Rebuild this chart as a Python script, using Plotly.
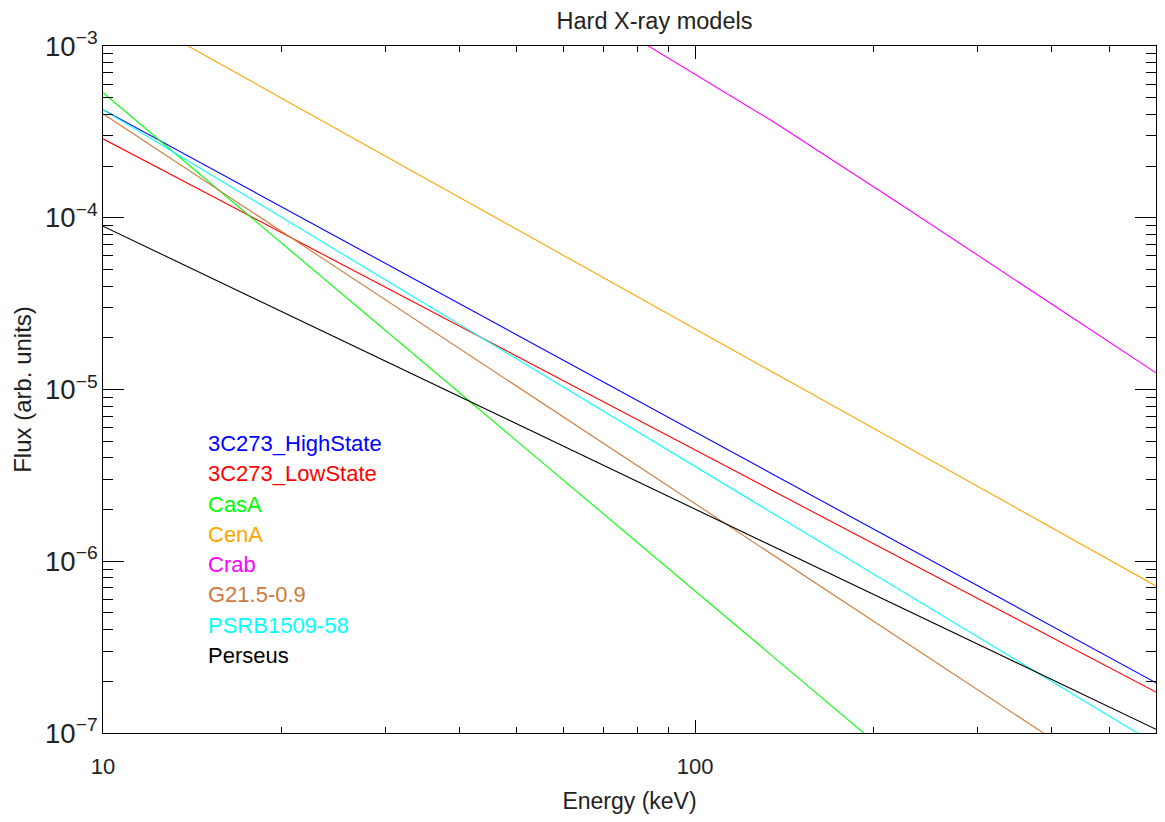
import math
import plotly.graph_objects as go

# ---- data ----
names = ["3C273_HighState", "3C273_LowState", "CasA", "CenA", "Crab",
         "G21.5-0.9", "PSRB1509-58", "Perseus"]
colors = ["#0000FF", "#FF0000", "#00FF00", "#FFA500", "#FF00FF",
          "#CD7A3C", "#00FFFF", "#000000"]

e_3c273_high = [10, 600]
f_3c273_high = [4.26e-4, 1.96e-7]

e_3c273_low = [10, 600]
f_3c273_low = [2.88e-4, 1.73e-7]

e_casa = [10, 193, 600]
f_casa = [5.34e-4, 1.0e-7, 3.7e-9]

e_cena = [10, 600]
f_cena = [1.89e-3, 7.18e-7]

e_crab = [10, 83.6, 134.5, 221.5, 600]
f_crab = [8.4e-2, 1.0e-3, 3.68e-4, 1.207e-4, 1.25e-5]

e_g21 = [10, 387, 600]
f_g21 = [4.03e-4, 1.0e-7, 3.7e-8]

e_psrb = [10, 559, 600]
f_psrb = [4.26e-4, 1.0e-7, 8.6e-8]

e_perseus = [10, 600]
f_perseus = [8.93e-5, 1.05e-7]

energies = [e_3c273_high, e_3c273_low, e_casa, e_cena, e_crab, e_g21, e_psrb, e_perseus]
fluxes = [f_3c273_high, f_3c273_low, f_casa, f_cena, f_crab, f_g21, f_psrb, f_perseus]

x_range = [10, 600]
y_range = [1e-7, 1e-3]
x_tickvals = [10, 100]
x_ticktext = ["10", "100"]
x_minor = [20, 30, 40, 50, 60, 70, 80, 90, 200, 300, 400, 500, 600]

FONT = "Liberation Sans, Arial, Helvetica, sans-serif"
TXT = "#222222"

fig = go.Figure()
for n, c, e, f in zip(names, colors, energies, fluxes):
    fig.add_trace(go.Scatter(x=e, y=f, mode="lines", name=n,
                             line=dict(color=c, width=1.1), showlegend=False))

# text legend
leg_x = 0.0975
leg_y0 = 0.4215
leg_dy = 0.0441
for i, (n, c) in enumerate(zip(names, colors)):
    fig.add_annotation(text=n, x=leg_x, y=leg_y0 - i * leg_dy,
                       xref="paper", yref="paper", xanchor="left", yanchor="middle",
                       showarrow=False, font=dict(family=FONT, size=22, color=c))

# the page body adds an 8px margin, so the figure is a bit smaller
fig.update_layout(
    width=1149, height=806,
    margin=dict(l=95, r=1, t=38, b=81, autoexpand=False),
    paper_bgcolor="white", plot_bgcolor="white",
    title=dict(text="Hard X-ray models", x=0.5627, xanchor="center",
               y=0.984, yanchor="middle",
               font=dict(family=FONT, size=23.5, color=TXT)),
    font=dict(family=FONT, color=TXT),
    xaxis=dict(
        type="log", range=[math.log10(x_range[0]), math.log10(x_range[1])],
        tickvals=x_tickvals, ticktext=x_ticktext,
        ticks="inside", ticklen=13, tickcolor="#000", tickwidth=1,
        minor=dict(tickvals=x_minor, ticks="inside", ticklen=6,
                   tickcolor="#000", tickwidth=1),
        showline=True, linecolor="#000", linewidth=1, mirror="allticks",
        showgrid=False, zeroline=False, automargin=False,
        tickfont=dict(family=FONT, size=22, color=TXT),
        ticklabelstandoff=14,
        title=dict(text="Energy (keV)", font=dict(family=FONT, size=23, color=TXT), standoff=18),
    ),
    yaxis=dict(
        type="log", range=[math.log10(y_range[0]), math.log10(y_range[1])],
        dtick=1, exponentformat="power",
        ticks="inside", ticklen=21, tickcolor="#000", tickwidth=1,
        minor=dict(ticks="inside", ticklen=10, tickcolor="#000", tickwidth=1, dtick="D1"),
        showline=True, linecolor="#000", linewidth=1, mirror="allticks",
        showgrid=False, zeroline=False, automargin=False,
        tickfont=dict(family=FONT, size=22, color=TXT),
        title=dict(text="Flux (arb. units)", font=dict(family=FONT, size=24, color=TXT), standoff=6),
    ),
)

fig.write_html("out.html")
